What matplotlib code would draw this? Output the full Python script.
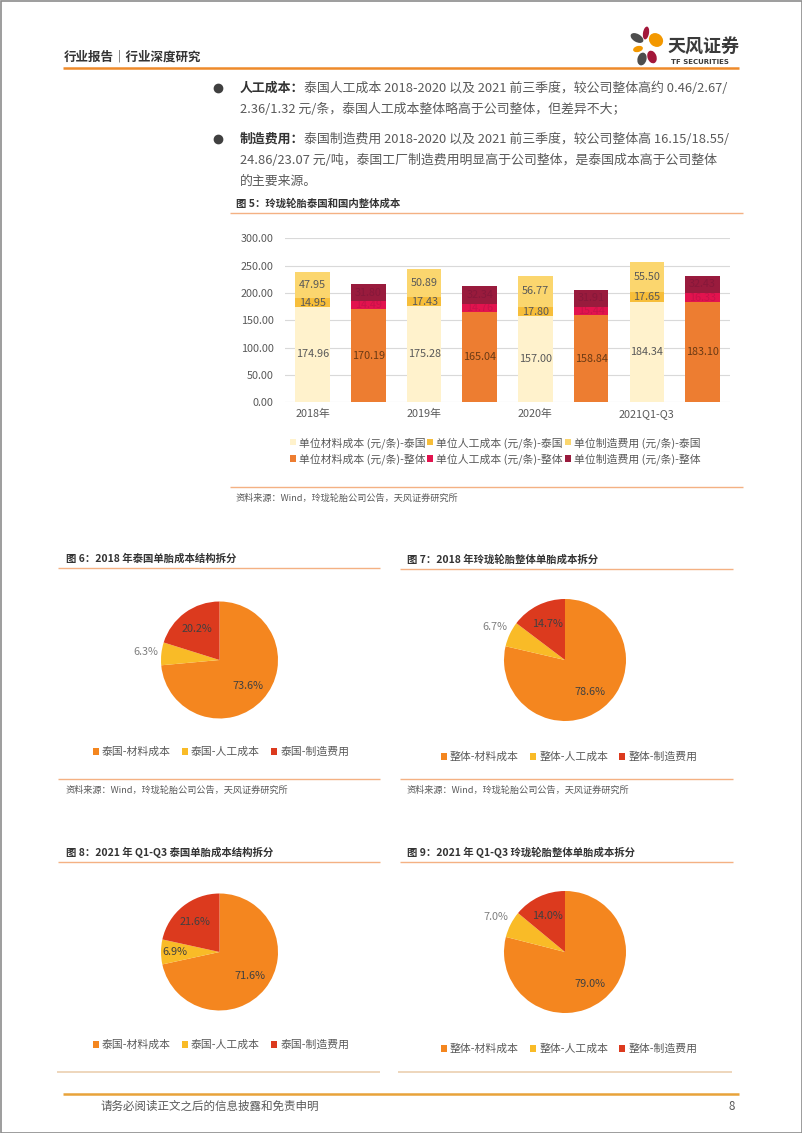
import matplotlib
matplotlib.use("Agg")
import matplotlib.pyplot as plt
import numpy as np
from matplotlib.patches import Ellipse, Rectangle

plt.rcParams['font.family'] = ['Noto Sans CJK SC', 'DejaVu Sans']

# ---- data (元/条) ----
periods = ["2018年", "2019年", "2020年", "2021Q1-Q3"]
th_material = [174.96, 175.28, 157.00, 184.34]
th_labor = [14.95, 17.43, 17.80, 17.65]
th_mfg = [47.95, 50.89, 56.77, 55.50]
all_material = [170.19, 165.04, 158.84, 183.10]
all_labor = [14.49, 14.76, 15.44, 16.33]
all_mfg = [31.80, 32.34, 31.91, 32.43]
yticks = [0, 50, 100, 150, 200, 250, 300]

bar_series = ["单位材料成本 (元/条)-泰国", "单位人工成本 (元/条)-泰国", "单位制造费用 (元/条)-泰国",
              "单位材料成本 (元/条)-整体", "单位人工成本 (元/条)-整体", "单位制造费用 (元/条)-整体"]
th_pie_labels = ["泰国-材料成本", "泰国-人工成本", "泰国-制造费用"]
all_pie_labels = ["整体-材料成本", "整体-人工成本", "整体-制造费用"]

W, H = 802, 1133
GRAY = '#595959'
DARK = '#333333'
ORANGE = '#EE8A2A'
LIGHT_OR = '#F4B183'

fig = plt.figure(figsize=(W / 100, H / 100), dpi=100)
page = fig.add_axes([0, 0, 1, 1])
page.set_xlim(0, W)
page.set_ylim(H, 0)
page.axis('off')
renderer = fig.canvas.get_renderer()


def hline(y, x0, x1, color=LIGHT_OR, lw=1.0):
    page.plot([x0, x1], [y, y], color=color, lw=lw, solid_capstyle='butt')


def px_axes(x0, y0, x1, y1):
    return fig.add_axes([x0 / W, 1 - y1 / H, (x1 - x0) / W, (y1 - y0) / H])


# page frame
page.add_patch(Rectangle((0.5, 0.5), W - 1, H - 1, fill=False, ec='#8C8C8C', lw=1.2))

# header
page.text(64, 57, "行业报告｜行业深度研究", fontsize=9, fontweight='bold', color=DARK, va='center')
hline(68, 63, 739, color=ORANGE, lw=1.8)
# logo petals
petals = [((637, 38), 14, 8, 30, '#4D4D4D'), ((646, 33), 6, 13, 10, '#A3173A'),
          ((656, 40), 15, 13, 40, '#F39800'), ((638, 49), 10, 6, -15, '#F39800'),
          ((642, 59), 9, 13, 15, '#4D4D4D'), ((652, 57), 9, 13, -20, '#A3173A')]
for c, w, h, a, col in petals:
    page.add_patch(Ellipse(c, w, h, angle=a, color=col, lw=0))
page.text(668, 47, "天风证券", fontsize=13, fontweight='bold', color='#3A3A3A', va='center')
page.text(671, 62, "TF SECURITIES", fontsize=5, fontweight='bold', color='#3A3A3A', va='center',
          family='DejaVu Sans')

# bullet paragraphs
bullets = [
    ("人工成本：", ["泰国人工成本 2018-2020 以及 2021 前三季度，较公司整体高约 0.46/2.67/",
                "2.36/1.32 元/条，泰国人工成本整体略高于公司整体，但差异不大；"], 88),
    ("制造费用：", ["泰国制造费用 2018-2020 以及 2021 前三季度，较公司整体高 16.15/18.55/",
                "24.86/23.07 元/吨，泰国工厂制造费用明显高于公司整体，是泰国成本高于公司整体",
                "的主要来源。"], 139),
]
for head, lines, y0 in bullets:
    page.plot(218, y0, 'o', ms=6, color='#404040')
    t = page.text(240, y0, head, fontsize=9.3, fontweight='bold', color=DARK, va='center')
    wpx = t.get_window_extent(renderer).width
    for i, ln in enumerate(lines):
        x = 240 + wpx if i == 0 else 240
        page.text(x, y0 + 21 * i, ln, fontsize=9.3, color=GRAY, va='center')

# ---- figure 5: stacked bars ----
page.text(236, 203, "图 5：玲珑轮胎泰国和国内整体成本", fontsize=7.5, fontweight='bold', color=DARK, va='center')
hline(213, 230, 743)
ax = px_axes(284.8, 238.3, 730.4, 402.3)
th_cols = ['#FFF2CC', '#F7BE3A', '#FBD66E']
all_cols = ['#ED7D31', '#E2134E', '#991B3D']
th_x = [2 * i for i in range(len(periods))]
all_x = [2 * i + 1 for i in range(len(periods))]
bw = 0.62
th_stack = [th_material, th_labor, th_mfg]
all_stack = [all_material, all_labor, all_mfg]
handles = []
for xs, stack, cols, txtc in [(th_x, th_stack, th_cols, [GRAY, GRAY, GRAY]),
                              (all_x, all_stack, all_cols, ['#6B3A14', '#C8124A', '#86183A'])]:
    bottom = [0] * len(periods)
    for vals, col, tc in zip(stack, cols, txtc):
        bc = ax.bar(xs, vals, bw, bottom=bottom, color=col, zorder=3)
        ax.bar_label(bc, labels=[f"{v:.2f}" for v in vals], label_type='center', fontsize=7.8, color=tc)
        handles.append(bc)
        bottom = [b + v for b, v in zip(bottom, vals)]
ax.set_xlim(-0.5, 7.5)
ax.set_ylim(0, 300)
ax.set_yticks(yticks)
ax.set_yticklabels([f"{v:.2f}" for v in yticks])
ax.set_xticks(th_x)
ax.set_xticklabels(periods)
ax.tick_params(length=0, labelsize=7.8, labelcolor=GRAY, pad=5)
ax.tick_params(axis='y', pad=8)
ax.grid(axis='y', color='#D9D9D9', lw=0.8, zorder=0)
for s in ax.spines.values():
    s.set_visible(False)
ax.patch.set_alpha(0)
order = [0, 3, 1, 4, 2, 5]
leg = ax.legend([handles[i] for i in order], [bar_series[i] for i in order], ncol=3, loc='center',
                bbox_to_anchor=(495, 451), bbox_transform=page.transData, frameon=False,
                fontsize=7.8, handlelength=0.55, handleheight=0.55, handletextpad=0.3,
                columnspacing=0.15, labelspacing=0.45, borderpad=0)
for t in leg.get_texts():
    t.set_color(GRAY)
hline(487, 230, 743)
page.text(236, 498, "资料来源：Wind，玲珑轮胎公司公告，天风证券研究所", fontsize=6.6, color=GRAY, va='center')

# ---- pies ----
pie_cols = ['#F4861F', '#F9BB27', '#DC3A1E']
pies = [
    ("图 6：2018 年泰国单胎成本结构拆分", [th_material[0], th_labor[0], th_mfg[0]], th_pie_labels,
     66, 559, 568, 58, 380, (219.5, 660, 58.5), 752, 221, True),
    ("图 7：2018 年玲珑轮胎整体单胎成本拆分", [all_material[0], all_labor[0], all_mfg[0]], all_pie_labels,
     407, 559, 569, 400, 733, (565, 660, 61), 757, 569, True),
    ("图 8：2021 年 Q1-Q3 泰国单胎成本结构拆分", [th_material[3], th_labor[3], th_mfg[3]], th_pie_labels,
     66, 852, 862, 58, 380, (219.5, 952, 58.5), 1045, 221, False),
    ("图 9：2021 年 Q1-Q3 玲珑轮胎整体单胎成本拆分", [all_material[3], all_labor[3], all_mfg[3]], all_pie_labels,
     407, 852, 862, 400, 733, (565, 952, 61), 1049, 569, True),
]
for title, vals, labs, tx, ty, ly, lx0, lx1, (cx, cy, r), legy, legx, outside in pies:
    page.text(tx, ty, title, fontsize=7.5, fontweight='bold', color=DARK, va='center')
    hline(ly, lx0, lx1)
    pax = px_axes(cx - 1.25 * r, cy - 1.25 * r, cx + 1.25 * r, cy + 1.25 * r)
    wedges, _, autos = pax.pie(vals, colors=pie_cols, startangle=90, counterclock=False,
                               autopct='%.1f%%', pctdistance=0.66,
                               textprops=dict(fontsize=7.8, color='#404040'))
    if outside:
        w = wedges[1]
        mid = np.deg2rad((w.theta1 + w.theta2) / 2)
        autos[1].set_position((1.27 * np.cos(mid), 1.27 * np.sin(mid)))
        autos[1].set_color('#7F7F7F')
    else:
        autos[1].set_position((-0.76, 0.0))
    lg = pax.legend(wedges, labs, ncol=3, loc='center', bbox_to_anchor=(legx, legy),
                    bbox_transform=page.transData, frameon=False, fontsize=7.8,
                    handlelength=0.55, handleheight=0.55, handletextpad=0.3, columnspacing=1.0,
                    borderpad=0)
    for t in lg.get_texts():
        t.set_color(GRAY)

for x0, x1 in [(58, 380), (400, 733)]:
    hline(779, x0, x1)
page.text(66, 790, "资料来源：Wind，玲珑轮胎公司公告，天风证券研究所", fontsize=6.6, color=GRAY, va='center')
page.text(407, 790, "资料来源：Wind，玲珑轮胎公司公告，天风证券研究所", fontsize=6.6, color=GRAY, va='center')
for x0, x1 in [(57, 380), (398, 732)]:
    hline(1072, x0, x1, color='#EBCFB0', lw=1.2)

# footer
hline(1094, 63, 739, color='#E8A33A', lw=1.8)
page.text(100, 1106, "请务必阅读正文之后的信息披露和免责申明", fontsize=8.3, color=GRAY, va='center')
page.text(735, 1106, "8", fontsize=8.3, color=GRAY, va='center', ha='right')

fig.savefig("out.png", dpi=100)
